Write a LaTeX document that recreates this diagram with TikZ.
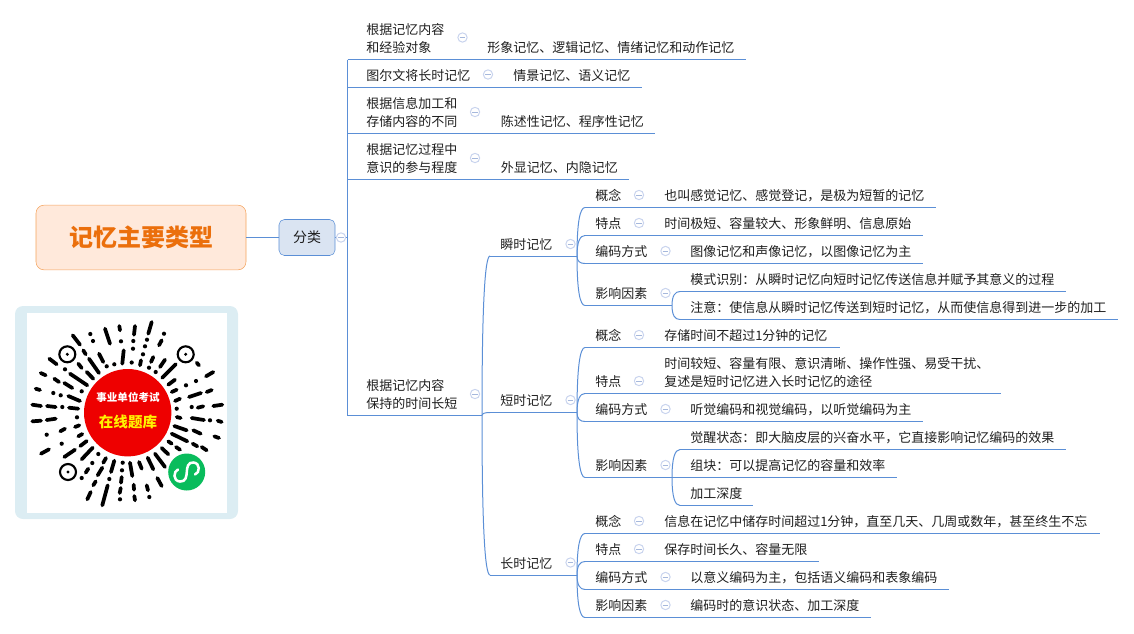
\documentclass[tikz,border=0pt]{standalone}
\usepackage{fontspec}
\setmainfont{Noto Sans CJK SC}
\usetikzlibrary{calc}

\definecolor{wirec}{HTML}{5B8FD6}
\definecolor{foldc}{HTML}{C9D4EE}
\definecolor{foldm}{HTML}{A6B8DC}
\definecolor{inkc}{HTML}{1E1E1E}
\definecolor{rootf}{HTML}{FFE9DB}
\definecolor{rootd}{HTML}{F4A35C}
\definecolor{roott}{HTML}{EB6F0C}
\definecolor{flf}{HTML}{DAE4F2}
\definecolor{framec}{HTML}{DCEDF3}
\definecolor{qrred}{HTML}{EE0000}
\definecolor{qrgreen}{HTML}{09BC5C}

\tikzset{
  wire/.style={draw=wirec,line width=.75pt},
  txt/.style={anchor=west,inner sep=0pt,align=left,text=inkc,yshift=-.6pt,font=\fontsize{9.75}{13.5}\selectfont},
  fold/.style={circle,draw=foldc,fill=white,line width=.75pt,inner sep=0pt,minimum size=7pt,
    path picture={\draw[foldm,line width=.6pt] ([xshift=-2.2pt]path picture bounding box.center) -- ([xshift=2.2pt]path picture bounding box.center);}},
  qrdash/.style={line width=2.8pt,line cap=round,black},
}
\newcommand{\branchto}[2]{\draw[wire] (#1) .. controls ($(#1)!0.7!(#1|-#2)$) and ($(#2)+(-5,0)$) .. (#2);}

\begin{document}
\begin{tikzpicture}[x=0.75pt,y=-0.75pt]
\useasboundingbox (0,0) rectangle (1134,633);

%root and first branch
\node [draw=rootd,fill=rootf,rounded corners=6pt,minimum width=157.5pt,minimum height=48.5pt,text=roott,font=\fontsize{18}{20}\selectfont\bfseries] (root) at(141,237.5){记忆主要类型};
\node [draw=wirec,fill=flf,rounded corners=4pt,minimum width=42pt,minimum height=27pt,text=inkc,font=\fontsize{10.5}{12}\selectfont] (fl) at(307,237.5){分类};
\coordinate (trunk) at(347.5,237.5);
\draw[wire](root) -- (fl);
\draw[wire](fl) -- (trunk);

%underlines
\foreach \nm/\xa/\xb/\yy in {a/347.5/746/59.5,b/347.5/642/87.5,c/347.5/655/133.5,d/347.5/629/179.5,e/347.5/482/415.5,
  f/490/577/256,g/490/577/412.5,h/490/577/575,
  fa/585/936/207.5,fb/585/923/235.5,fc/585/923/263.5,fd/585/672/305.5,fda/680/1066/291.5,fdb/680/1118/319.5,
  ga/585/840/347.5,gb/585/1001/393.5,gc/585/923/421.5,gd/585/672/477.5,gda/680/1066/449.5,gdb/672/897/477.5,gdc/680/753/505.5,
  ha/585/1100/533.5,hb/585/819/561.5,hc/585/949/589.5,hd/585/871/617.5}
{
\coordinate (\nm s) at(\xa,\yy);
\coordinate (\nm t) at(\xb,\yy);
\draw[wire](\nm s) -- (\nm t);
}
\draw[wire](as) -- (es);

\branchto{et}{fs}
\branchto{et}{gs}
\branchto{et}{hs}
\foreach \pa in {f,g,h}{
  \foreach \pb in {a,b,c,d}{
    \branchto{\pa t}{\pa\pb s}
  }
}
\branchto{fdt}{fdas}
\branchto{fdt}{fdbs}
\branchto{gdt}{gdas}
\branchto{gdt}{gdcs}

%second level
\node [txt] (ta) at(366,38){根据记忆内容\\和经验对象};
\node [txt] (tb) at(366,75){图尔文将长时记忆};
\node [txt] (tc) at(366,112){根据信息加工和\\存储内容的不同};
\node [txt] (td) at(366,158){根据记忆过程中\\意识的参与程度};
\node [txt] (te) at(366,394){根据记忆内容\\保持的时间长短};

\node [txt] (xa) at(487,47){形象记忆、逻辑记忆、情绪记忆和动作记忆};
\node [txt] (xb) at(513,75){情景记忆、语义记忆};
\node [txt] (xc) at(500.5,121){陈述性记忆、程序性记忆};
\node [txt] (xd) at(500.5,167){外显记忆、内隐记忆};

%third level
\node [txt] (tf) at(500,244){瞬时记忆};
\node [txt] (tg) at(500,400){短时记忆};
\node [txt] (th) at(500,563){长时记忆};

%instant memory
\node [txt] (fal) at(595,195){概念};
\node [txt] (fbl) at(595,223){特点};
\node [txt] (fcl) at(595,251){编码方式};
\node [txt] (fdl) at(595,293){影响因素};
\node [txt] (fax) at(664,195){也叫感觉记忆、感觉登记，是极为短暂的记忆};
\node [txt] (fbx) at(664,223){时间极短、容量较大、形象鲜明、信息原始};
\node [txt] (fcx) at(690,251){图像记忆和声像记忆，以图像记忆为主};
\node [txt] (fdax) at(690,279){模式识别：从瞬时记忆向短时记忆传送信息并赋予其意义的过程};
\node [txt] (fdbx) at(690,307){注意：使信息从瞬时记忆传送到短时记忆，从而使信息得到进一步的加工};

%short memory
\node [txt] (gal) at(595,335){概念};
\node [txt] (gbl) at(595,381){特点};
\node [txt] (gcl) at(595,409){编码方式};
\node [txt] (gdl) at(595,465){影响因素};
\node [txt] (gax) at(664,335){存储时间不超过1分钟的记忆};
\node [txt] (gbx) at(664,372){时间较短、容量有限、意识清晰、操作性强、易受干扰、\\复述是短时记忆进入长时记忆的途径};
\node [txt] (gcx) at(690,409){听觉编码和视觉编码，以听觉编码为主};
\node [txt] (gdax) at(690,437){觉醒状态：即大脑皮层的兴奋水平，它直接影响记忆编码的效果};
\node [txt] (gdbx) at(690,465){组块：可以提高记忆的容量和效率};
\node [txt] (gdcx) at(690,493){加工深度};

%long memory
\node [txt] (hal) at(595,521){概念};
\node [txt] (hbl) at(595,549){特点};
\node [txt] (hcl) at(595,577){编码方式};
\node [txt] (hdl) at(595,605){影响因素};
\node [txt] (hax) at(664,521){信息在记忆中储存时间超过1分钟，直至几天、几周或数年，甚至终生不忘};
\node [txt] (hbx) at(664,549){保存时间长久、容量无限};
\node [txt] (hcx) at(690,577){以意义编码为主，包括语义编码和表象编码};
\node [txt] (hdx) at(690,605){编码时的意识状态、加工深度};

%collapse marks
\foreach \xx/\yy in {341/237.5,462.5/37.5,488/74.5,475/112,475/158,475/394,
  570.5/244,570.5/400,570.5/562.5,
  639/195,639/223,665.5/251,665.5/293,
  639/335,639/381,665.5/409,665.5/465,
  639/521,639/549,665.5/577,665.5/605}
  \node [fold] at(\xx,\yy){};

%code picture
\fill[framec,rounded corners=6pt] (15,306) rectangle (238,519);
\fill[white] (27,313) rectangle (227,513);
\foreach \xa/\ya/\xb/\yb in {
  72.7/335.3/80/344.7,105/328.7/110/343.7,119.3/326/120/330.3,123.7/350.3/122.3/363.7,99/353.7/103.3/362,
  83.3/350.3/85.7/354.3,89/358.7/99/373,78.3/363.7/81.7/368,86.7/372/93.3/378.7,70/373.7/87.3/385.3,
  49.3/358.7/56.7/364.3,40.7/373/45.7/375.3,54.3/378.7/59/382,64.3/383/72.3/388,35.7/388.7/40/390,
  68.3/396/80/401,32.3/404.7/41/406,47/406/55.7/407,69/407.7/78.3/408.7,
  135/326/134/334.7,151.7/322/148.3/333.7,161.7/340.3/159/345.3,153.3/357/151/362,141/360.3/140/365.3,
  165/359.7/160/367,175.7/364.3/162.3/377.7,196.7/362.7/199/365.3,213.3/372/206/376.3,175/379.7/168.3/384.7,
  176.7/389.7/171.7/392,211.7/390/206.7/392,201/393/189/397,180/398.7/175/401,203.3/406.3/197.7/407.7,222.3/404.7/213.3/406,
  32.3/421.3/41/420.7,46.7/420/55.7/418.7,75/427/79.3/425.3,60.3/431.3/65/428.7,78.3/436.3/82.3/434,
  80.3/446/86.7/441,41/453.7/49/449.3,64.3/457/75/449.7,81.7/459.3/92.7/447.7,103.3/462.7/106/458,
  111/472/114.3/460.7,85.7/472.7/88.3/468.7,97.7/475.3/102.3/467.7,121.7/477/121/482.7,93.3/485.3/95.7/481.3,
  120.7/488/119.7/493,87.3/499.3/90.7/492,102.3/505.3/107.7/485.3,
  176.7/417/180.7/418,191.7/418/204/420,217.7/420.7/221.7/422,174.3/426/186.7/430.3,193.3/430.3/200.7/433.7,
  214.3/436.3/219/438,171.7/433.7/187.3/441.3,192.7/443.7/197.3/446.3,168.3/441.3/171.7/443.7,201.7/447/206.7/450.3,
  176/447/180/449.7,161.7/448/168.3/454.3,155/453.7/165/467,147.7/457.7/153.3/469.3,139/462/141.7/468.7,
  130/462.7/132.3/476,157.3/478/161.7/486,146.7/485.3/148/490.3,133.7/484.7/134/489.7,134.3/496/135/500.3}
  \draw[qrdash] (\xa,\ya) -- (\xb,\yb);
\foreach \xa/\ya in {90.3/334,93/341,121/341.3,114.3/364.3,106.7/366.3,65/369.3,53.3/393,60.7/395.3,81.7/391.3,62.3/407,
  164/333.7,147/339.7,133.3/341,145/346.3,133/348.7,143/354.3,131.7/362.5,149/367.7,155.7/372,186/385.3,196/381,176.7/408.7,191.7/407,
  77/417.3,46.7/434.7,61.7/443.7,98.3/454,92.3/463,122.7/462.7,122/470.3,81.7/478,109.3/479,120/499.3,210/420.3,149.3/497}
  \fill (\xa,\ya) circle (2.1);
\foreach \xa/\ya in {67.3/354.3,185.7/354.3,68/472}{
  \draw[black,line width=1.6pt] (\xa,\ya) circle (8);
  \fill (\xa,\ya) circle (1.7);
}
\fill[qrred] (127.7,412.7) circle (43.7);
\node [inner sep=0pt,text=white,font=\fontsize{7.9}{9}\selectfont\bfseries] (qra) at(128,397){事业单位考试};
\node [inner sep=0pt,text=yellow,font=\fontsize{10.9}{12}\selectfont\bfseries] (qrb) at(128,422){在线题库};
\fill[qrgreen] (186.7,472) circle (18.5);
\draw[white,line width=1.9pt,line cap=round] (178,469.5) .. controls (173.5,471) and (172.5,481) .. (180,481.5)
  .. controls (186,482) and (186.5,476) .. (186.8,472) .. controls (187,467) and (188,462) .. (193.5,462.5)
  .. controls (200.5,463) and (200,473) .. (195,474.5);

\end{tikzpicture}
\end{document}
